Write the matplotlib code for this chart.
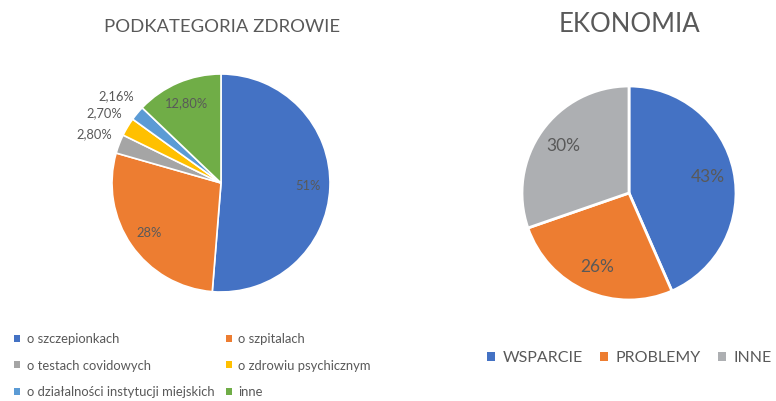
import numpy as np
import matplotlib.pyplot as plt
from matplotlib.patches import Patch

plt.rcParams["font.family"] = ["Lato", "DejaVu Sans"]

W, H = 776, 401
TEXT = "#595959"

# left pie: health subcategories
zdrowie_labels = [
    "o szczepionkach",
    "o szpitalach",
    "o testach covidowych",
    "o zdrowiu psychicznym",
    "o działalności instytucji miejskich",
    "inne",
]
zdrowie_values = [51, 28, 2.80, 2.70, 2.16, 12.80]
zdrowie_text = ["51%", "28%", "2,80%", "2,70%", "2,16%", "12,80%"]
zdrowie_outside = [False, False, True, True, True, False]
zdrowie_colors = ["#4472C4", "#ED7D31", "#A5A5A5", "#FFC000", "#5B9BD5", "#70AD47"]

# right pie: economy
ekonomia_labels = ["WSPARCIE", "PROBLEMY", "INNE"]
ekonomia_values = [43, 26, 30]
ekonomia_text = ["43%", "26%", "30%"]
ekonomia_colors = ["#4472C4", "#ED7D31", "#ADAFB2"]


def px_axes(fig, cx, cy, r):
    """Axes centred on pixel (cx, cy) with radius r."""
    ax = fig.add_axes([(cx - r) / W, 1 - (cy + r) / H, 2 * r / W, 2 * r / H])
    ax.axis("off")
    return ax


def fix_limits(ax):
    ax.set_xlim(-1, 1)
    ax.set_ylim(-1, 1)
    ax.set_aspect("equal")


fig = plt.figure(figsize=(W / 100, H / 100), dpi=100)

# ---- left pie
ax1 = px_axes(fig, 221, 183, 109)
wedges, _ = ax1.pie(
    zdrowie_values,
    colors=zdrowie_colors,
    startangle=90,
    counterclock=False,
    radius=1,
    wedgeprops=dict(edgecolor="white", linewidth=1.2),
)
fix_limits(ax1)
for w, txt, out in zip(wedges, zdrowie_text, zdrowie_outside):
    ang = np.deg2rad((w.theta1 + w.theta2) / 2)
    d = 1.25 if out else 0.8
    ax1.text(d * np.cos(ang), d * np.sin(ang), txt, ha="center", va="center",
             fontsize=9.3, color=TEXT, clip_on=False)

fig.text(222 / W, 1 - 27 / H, "PODKATEGORIA ZDROWIE", ha="center", va="center",
         fontsize=13.3, color=TEXT)

handles = [Patch(facecolor=c, edgecolor="none") for c in zdrowie_colors]
order = [0, 2, 4, 1, 3, 5]
fig.legend(
    [handles[i] for i in order],
    [zdrowie_labels[i] for i in order],
    ncol=2,
    loc="upper left",
    bbox_to_anchor=(5 / W, 1 - 324 / H),
    frameon=False,
    fontsize=9.4,
    labelcolor=TEXT,
    handlelength=0.45,
    handleheight=0.45,
    handletextpad=0.5,
    columnspacing=0.9,
    labelspacing=1.1,
    borderpad=0.2,
)

# ---- right pie
ax2 = px_axes(fig, 629, 193, 107)
wedges2, _ = ax2.pie(
    ekonomia_values,
    colors=ekonomia_colors,
    startangle=90,
    counterclock=False,
    radius=1,
    wedgeprops=dict(edgecolor="white", linewidth=2),
)
fix_limits(ax2)
for w, txt in zip(wedges2, ekonomia_text):
    ang = np.deg2rad((w.theta1 + w.theta2) / 2)
    ax2.text(0.75 * np.cos(ang), 0.75 * np.sin(ang), txt, ha="center", va="center",
             fontsize=12.5, color=TEXT)

fig.text(629 / W, 1 - 25 / H, "EKONOMIA", ha="center", va="center",
         fontsize=18.5, color=TEXT)

handles2 = [Patch(facecolor=c, edgecolor="none") for c in ekonomia_colors]
fig.legend(
    handles2,
    ekonomia_labels,
    ncol=3,
    loc="center left",
    bbox_to_anchor=(473 / W, 1 - 358 / H),
    frameon=False,
    fontsize=11.5,
    labelcolor=TEXT,
    handlelength=0.45,
    handleheight=0.45,
    handletextpad=0.5,
    columnspacing=1.1,
)

fig.savefig("out.png", dpi=100)
